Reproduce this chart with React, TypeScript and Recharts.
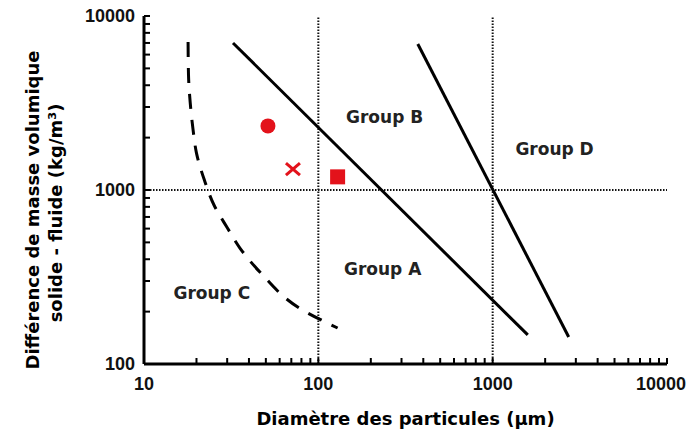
import { ComposedChart, Line, Scatter, XAxis, YAxis, ReferenceLine, Label } from 'recharts'

const xTicks = [10, 20, 30, 40, 50, 60, 70, 80, 90, 100, 200, 300, 400, 500, 600, 700, 800, 900, 1000, 2000, 3000, 4000, 5000, 6000, 7000, 8000, 9000, 10000]
const yTicks = [100, 200, 300, 400, 500, 600, 700, 800, 900, 1000, 2000, 3000, 4000, 5000, 6000, 7000, 8000, 9000, 10000]
const majorTicks = [10, 100, 1000, 10000]

// frontière C / A (tirets)
const boundaryCA = [
  { x: 17.9, y: 7090 },
  { x: 18.0, y: 4580 },
  { x: 18.4, y: 3200 },
  { x: 19.1, y: 2240 },
  { x: 20.0, y: 1630 },
  { x: 22.2, y: 1140 },
  { x: 25.2, y: 820 },
  { x: 30.1, y: 605 },
  { x: 35.5, y: 464 },
  { x: 46.8, y: 333 },
  { x: 79.4, y: 207 },
  { x: 129, y: 161 },
]
// frontière A / B
const boundaryAB = [
  { x: 32.4, y: 7000 },
  { x: 1590, y: 147 },
]
// frontière B / D
const boundaryBD = [
  { x: 372, y: 6900 },
  { x: 2730, y: 143 },
]

const circlePts = [{ x: 51.4, y: 2335 }]
const crossPts = [{ x: 71.5, y: 1320 }]
const squarePts = [{ x: 129, y: 1190 }]

const groupLabels = [
  { x: 240, y: 2630, name: 'Group B' },
  { x: 2265, y: 1720, name: 'Group D' },
  { x: 234, y: 351, name: 'Group A' },
  { x: 24.5, y: 256, name: 'Group C' },
]

const RED = '#e3121b'
const TICK_FONT = "'Liberation Sans', Arial, sans-serif"
const TITLE_FONT = "'DejaVu Sans', sans-serif"

const BottomTick = (p: any) => {
  const v = p.payload.value
  const major = majorTicks.includes(v)
  return (
    <g>
      <line x1={p.x} x2={p.x} y1={p.y} y2={p.y - 6} stroke="#000" strokeWidth={2} />
      {major && (
        <text x={v === 10000 ? p.x - 6 : p.x} y={p.y + 20} textAnchor="middle" dominantBaseline="central" style={s.tick}>
          {v}
        </text>
      )}
    </g>
  )
}

const TopTick = (p: any) => (
  <line x1={p.x} x2={p.x} y1={p.y} y2={p.y + 6} stroke="#000" strokeWidth={2} />
)

const LeftTick = (p: any) => {
  const v = p.payload.value
  const major = majorTicks.includes(v)
  return (
    <g>
      <line x1={p.x} x2={p.x + 6} y1={p.y} y2={p.y} stroke="#000" strokeWidth={2} />
      {major && (
        <text x={p.x - 9} y={p.y} textAnchor="end" dominantBaseline="central" style={s.tick}>
          {v}
        </text>
      )}
    </g>
  )
}

const RightTick = (p: any) => (
  <line x1={p.x} x2={p.x - 6} y1={p.y} y2={p.y} stroke="#000" strokeWidth={2} />
)

const XTitle = (p: any) => {
  const vb = p.viewBox
  return (
    <text x={vb.x + vb.width / 2} y={vb.y + 54} textAnchor="middle" dominantBaseline="central" style={s.title}>
      Diamètre des particules (µm)
    </text>
  )
}

const YTitle = (p: any) => {
  const vb = p.viewBox
  const cy = vb.y + 194
  return (
    <g style={s.title}>
      <text x={32} y={cy} transform={`rotate(-90, 32, ${cy})`} textAnchor="middle" dominantBaseline="central">
        Différence de masse volumique
      </text>
      <text x={55} y={cy + 3} transform={`rotate(-90, 55, ${cy + 3})`} textAnchor="middle" dominantBaseline="central">
        solide - fluide (kg/m³)
      </text>
    </g>
  )
}

const circleShape = (p: any) => <circle cx={p.cx} cy={p.cy} r={7.5} fill={RED} />
const squareShape = (p: any) => <rect x={p.cx - 7.5} y={p.cy - 7.5} width={15} height={15} fill={RED} />
const crossShape = (p: any) => (
  <g stroke={RED} strokeWidth={3}>
    <line x1={p.cx - 7} y1={p.cy - 6} x2={p.cx + 7} y2={p.cy + 6} />
    <line x1={p.cx - 7} y1={p.cy + 6} x2={p.cx + 7} y2={p.cy - 6} />
  </g>
)
const labelShape = (p: any) => (
  <text x={p.cx} y={p.cy} textAnchor="middle" dominantBaseline="central" style={s.group}>
    {p.payload?.name}
  </text>
)

export default function App() {
  return (
    <div style={s.wrap}>
      <ComposedChart width={692} height={432} margin={{ top: 16, right: 25, bottom: 0, left: 0 }}>
        <XAxis
          xAxisId="b"
          dataKey="x"
          type="number"
          scale="log"
          domain={[10, 10000]}
          allowDataOverflow
          ticks={xTicks}
          interval={0}
          tickSize={0}
          tickMargin={0}
          tickLine={false}
          tick={BottomTick}
          axisLine={{ stroke: '#000', strokeWidth: 3 }}
          height={68}
        >
          <Label content={XTitle} />
        </XAxis>
        <XAxis
          xAxisId="t"
          orientation="top"
          type="number"
          scale="log"
          domain={[10, 10000]}
          allowDataOverflow
          ticks={xTicks}
          interval={0}
          tickSize={0}
          tickMargin={0}
          tickLine={false}
          tick={TopTick}
          axisLine={{ stroke: '#000', strokeWidth: 3 }}
          height={0}
        />
        <YAxis
          yAxisId="l"
          dataKey="y"
          type="number"
          scale="log"
          domain={[100, 10000]}
          allowDataOverflow
          ticks={yTicks}
          interval={0}
          tickSize={0}
          tickMargin={0}
          tickLine={false}
          tick={LeftTick}
          axisLine={{ stroke: '#000', strokeWidth: 3 }}
          width={144}
        >
          <Label content={YTitle} />
        </YAxis>
        <YAxis
          yAxisId="r"
          orientation="right"
          type="number"
          scale="log"
          domain={[100, 10000]}
          allowDataOverflow
          ticks={yTicks}
          interval={0}
          tickSize={0}
          tickMargin={0}
          tickLine={false}
          tick={RightTick}
          axisLine={{ stroke: '#000', strokeWidth: 3 }}
          width={0}
        />

        {/* grille pointillée */}
        <ReferenceLine xAxisId="b" yAxisId="l" x={100} stroke="#111" strokeWidth={2} strokeDasharray="1.5 1.5" />
        <ReferenceLine xAxisId="b" yAxisId="l" x={1000} stroke="#111" strokeWidth={2} strokeDasharray="1.5 1.5" />
        <ReferenceLine xAxisId="b" yAxisId="l" y={1000} stroke="#111" strokeWidth={2} strokeDasharray="1.5 1.5" />

        <Line xAxisId="b" yAxisId="l" data={boundaryCA} dataKey="y" type="monotoneY" stroke="#000" strokeWidth={3}
          strokeDasharray="15 11" dot={false} isAnimationActive={false} />
        <Line xAxisId="b" yAxisId="l" data={boundaryAB} dataKey="y" type="linear" stroke="#000" strokeWidth={3}
          dot={false} isAnimationActive={false} />
        <Line xAxisId="b" yAxisId="l" data={boundaryBD} dataKey="y" type="linear" stroke="#000" strokeWidth={3}
          dot={false} isAnimationActive={false} />

        <Scatter xAxisId="b" yAxisId="l" data={circlePts} dataKey="y" shape={circleShape} isAnimationActive={false} />
        <Scatter xAxisId="b" yAxisId="l" data={crossPts} dataKey="y" shape={crossShape} isAnimationActive={false} />
        <Scatter xAxisId="b" yAxisId="l" data={squarePts} dataKey="y" shape={squareShape} isAnimationActive={false} />
        <Scatter xAxisId="b" yAxisId="l" data={groupLabels} dataKey="y" shape={labelShape} isAnimationActive={false} />
      </ComposedChart>
    </div>
  )
}

const s = {
  wrap: {
    position: 'absolute' as const,
    left: 0,
    top: 0,
    width: 692,
    height: 432,
    background: '#fff',
  } as React.CSSProperties,
  tick: {
    fontFamily: TICK_FONT,
    fontSize: 18,
    fontWeight: 700,
    fill: '#111',
  } as React.CSSProperties,
  title: {
    fontFamily: TITLE_FONT,
    fontSize: 18,
    fontWeight: 700,
    fill: '#000',
  } as React.CSSProperties,
  group: {
    fontFamily: TITLE_FONT,
    fontSize: 17,
    fontWeight: 700,
    fill: '#222',
  } as React.CSSProperties,
}
